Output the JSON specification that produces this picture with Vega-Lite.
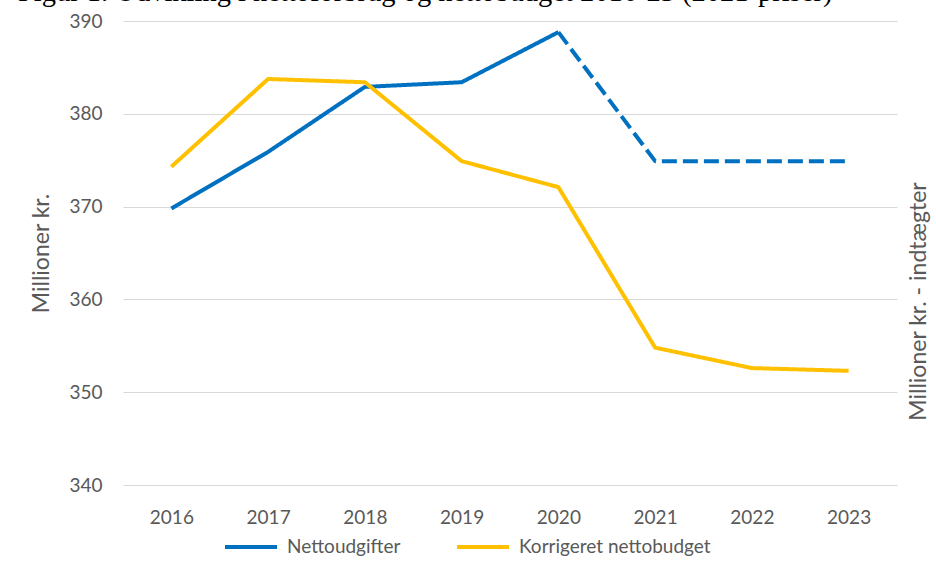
{
  "$schema": "https://vega.github.io/schema/vega-lite/v6.json",
  "width": 774,
  "height": 464,
  "autosize": {"type": "none"},
  "padding": {"left": 123, "top": 21, "right": 39, "bottom": 76},
  "background": "white",
  "title": {
    "text": "Figur 1. Udvikling i nettoforbrug og nettobudget 2016-23 (2021-priser)",
    "anchor": "start",
    "font": "Liberation Serif",
    "fontSize": 28.5,
    "fontWeight": "normal",
    "color": "#000000",
    "dx": -13,
    "dy": 22,
    "baseline": "alphabetic",
    "offset": 5
  },
  "data": {
    "values": [
      {"year": "2016", "series": "Nettoudgifter", "kind": "Regnskab", "value": 369.8},
      {"year": "2017", "series": "Nettoudgifter", "kind": "Regnskab", "value": 375.9},
      {"year": "2018", "series": "Nettoudgifter", "kind": "Regnskab", "value": 382.9},
      {"year": "2019", "series": "Nettoudgifter", "kind": "Regnskab", "value": 383.4},
      {"year": "2020", "series": "Nettoudgifter", "kind": "Regnskab", "value": 388.8},
      {"year": "2020", "series": "Nettoudgifter", "kind": "Forventet", "value": 388.8},
      {"year": "2021", "series": "Nettoudgifter", "kind": "Forventet", "value": 374.9},
      {"year": "2022", "series": "Nettoudgifter", "kind": "Forventet", "value": 374.9},
      {"year": "2023", "series": "Nettoudgifter", "kind": "Forventet", "value": 374.9},
      {"year": "2016", "series": "Korrigeret nettobudget", "kind": "Regnskab", "value": 374.3},
      {"year": "2017", "series": "Korrigeret nettobudget", "kind": "Regnskab", "value": 383.75},
      {"year": "2018", "series": "Korrigeret nettobudget", "kind": "Regnskab", "value": 383.4},
      {"year": "2019", "series": "Korrigeret nettobudget", "kind": "Regnskab", "value": 374.9},
      {"year": "2020", "series": "Korrigeret nettobudget", "kind": "Regnskab", "value": 372.1},
      {"year": "2021", "series": "Korrigeret nettobudget", "kind": "Regnskab", "value": 354.8},
      {"year": "2022", "series": "Korrigeret nettobudget", "kind": "Regnskab", "value": 352.6},
      {"year": "2023", "series": "Korrigeret nettobudget", "kind": "Regnskab", "value": 352.3}
    ]
  },
  "layer": [
    {
      "mark": {"type": "line", "strokeWidth": 4, "strokeCap": "butt", "strokeJoin": "round"},
      "encoding": {
        "x": {
          "field": "year",
          "type": "ordinal",
          "scale": {"type": "point", "padding": 0.5},
          "axis": {
            "title": null,
            "labelAngle": 0,
            "ticks": false,
            "domain": false,
            "grid": false,
            "labelPadding": 23,
            "labelFont": "Lato",
            "labelFontSize": 19,
            "labelColor": "#595959"
          }
        },
        "y": {
          "field": "value",
          "type": "quantitative",
          "scale": {"domain": [340, 390], "nice": false, "zero": false},
          "axis": {
            "orient": "left",
            "values": [340, 350, 360, 370, 380, 390],
            "title": "Millioner kr.",
            "titleFont": "Lato",
            "titleFontSize": 23,
            "titleFontWeight": "normal",
            "titleColor": "#595959",
            "titlePadding": 15,
            "ticks": false,
            "domain": false,
            "grid": true,
            "gridColor": "#d9d9d9",
            "gridWidth": 1,
            "labelPadding": 21,
            "labelFont": "Lato",
            "labelFontSize": 19,
            "labelColor": "#595959"
          }
        },
        "color": {
          "field": "series",
          "type": "nominal",
          "scale": {
            "domain": ["Nettoudgifter", "Korrigeret nettobudget"],
            "range": ["#0070C0", "#FFC000"]
          },
          "legend": {
            "title": null,
            "orient": "none",
            "legendX": 100,
            "legendY": 498,
            "direction": "horizontal",
            "symbolType": "stroke",
            "symbolSize": 2704,
            "symbolStrokeWidth": 4,
            "symbolDash": [],
            "labelFont": "Lato",
            "labelFontSize": 19,
            "labelColor": "#595959",
            "labelLimit": 400,
            "columnPadding": 48,
            "labelOffset": 8
          }
        },
        "strokeDash": {
          "field": "kind",
          "type": "nominal",
          "scale": {"domain": ["Regnskab", "Forventet"], "range": [[1, 0], [15, 6]]},
          "legend": null
        },
        "detail": {"field": "kind"}
      }
    },
    {
      "mark": {"type": "line", "strokeOpacity": 0},
      "encoding": {
        "x": {"field": "year", "type": "ordinal", "scale": {"type": "point", "padding": 0.5}},
        "y": {
          "field": "value",
          "type": "quantitative",
          "scale": {"domain": [340, 390], "nice": false, "zero": false},
          "axis": {
            "orient": "right",
            "title": "Millioner kr. - indtægter",
            "titleAngle": 270,
            "titleBaseline": "top",
            "titleFont": "Lato",
            "titleFontSize": 23,
            "titleFontWeight": "normal",
            "titleColor": "#595959",
            "titlePadding": 10,
            "titleY": 280,
            "labels": false,
            "ticks": false,
            "domain": false,
            "grid": false
          }
        }
      }
    }
  ],
  "resolve": {"scale": {"y": "independent"}, "axis": {"y": "independent"}},
  "config": {"view": {"stroke": null}}
}
